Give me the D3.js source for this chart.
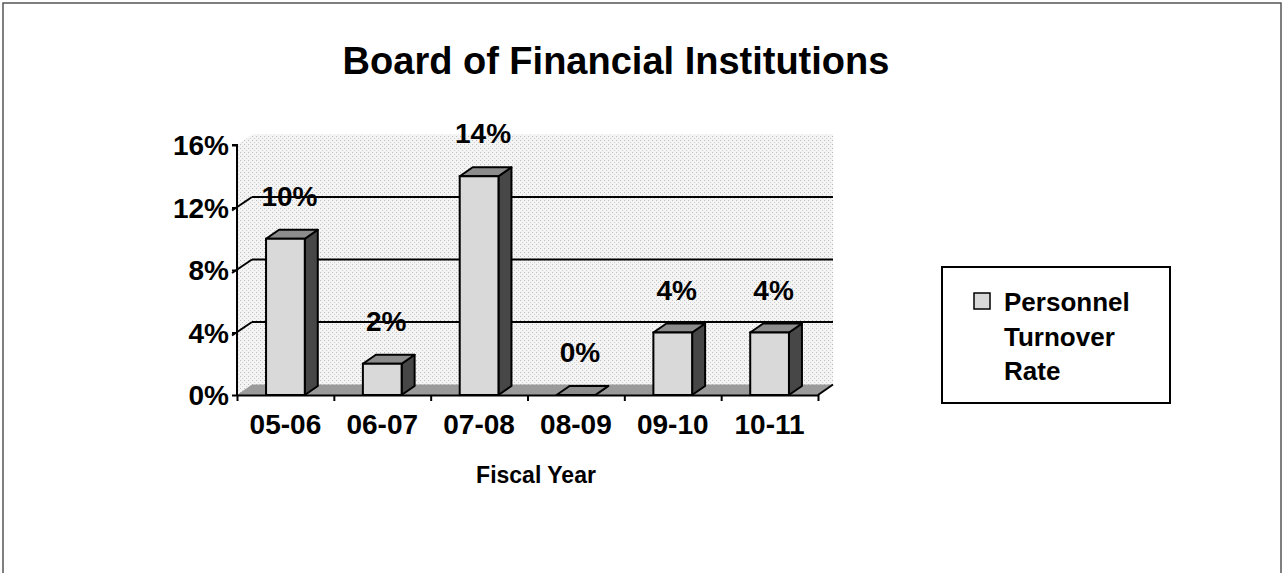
<!DOCTYPE html>
<html>
<head>
<meta charset="utf-8">
<script src="https://cdn.jsdelivr.net/npm/d3@7"></script>
<style>
  html, body { margin: 0; padding: 0; background: #fff; }
  svg { display: block; }
  text { font-family: "Liberation Sans", Arial, sans-serif; font-weight: bold; fill: #000; }
</style>
</head>
<body>
<svg id="chart" width="1284" height="573"></svg>
<script>
const categories = ["05-06", "06-07", "07-08", "08-09", "09-10", "10-11"];
const turnoverRate = [10, 2, 14, 0, 4, 4];
const yTickValues = [0, 4, 8, 12, 16];
const gridValues = [4, 8, 12];
const title = "Board of Financial Institutions";
const xTitle = "Fiscal Year";
const seriesName = ["Personnel", "Turnover", "Rate"];

const svg = d3.select("#chart");

// frame
svg.append("rect").attr("x", 3).attr("y", 3).attr("width", 1278).attr("height", 580)
  .attr("fill", "none").attr("stroke", "#555").attr("stroke-width", 1.5);

const pLeft = 237, pRight = 818, pBottom = 395, pTop = 145;
const wallDx = 15, wallDy = -10.5;
const barDx = 13, barDy = -9;

const x = d3.scaleBand().domain(categories).range([pLeft, pRight]).paddingInner(0).paddingOuter(0);
const xLin = d3.scaleLinear().domain([0, categories.length]).range([pLeft, pRight]);
const y = d3.scaleLinear().domain([0, 16]).range([pBottom, pTop]);

// stipple pattern to mimic the scanned texture
const defs = svg.append("defs");
const pat = defs.append("pattern").attr("id", "stip").attr("width", 4).attr("height", 4).attr("patternUnits", "userSpaceOnUse");
pat.append("rect").attr("width", 4).attr("height", 4).attr("fill", "#f4f4f4");
pat.append("rect").attr("x", 0).attr("y", 0).attr("width", 1).attr("height", 1).attr("fill", "#bdbdbd");
pat.append("rect").attr("x", 2).attr("y", 2).attr("width", 1).attr("height", 1).attr("fill", "#cfcfcf");

// back wall
svg.append("path")
  .attr("d", `M${pLeft},${y(16)} L${pLeft + wallDx},${y(16) + wallDy} L${pRight + wallDx},${y(16) + wallDy} L${pRight + wallDx},${y(0) + wallDy} L${pRight},${y(0)} L${pLeft},${y(0)} Z`)
  .attr("fill", "url(#stip)");

// floor
svg.append("path")
  .attr("d", `M${pLeft},${y(0)} L${pLeft + wallDx},${y(0) + wallDy} L${pRight + wallDx},${y(0) + wallDy} L${pRight},${y(0)} Z`)
  .attr("fill", "#9a9a9a");

// gridlines on back wall
svg.append("g").selectAll("line").data(gridValues).join("line")
  .attr("x1", pLeft + wallDx).attr("x2", pRight + wallDx)
  .attr("y1", d => y(d) + wallDy).attr("y2", d => y(d) + wallDy)
  .attr("stroke", "#000").attr("stroke-width", 2);

// diagonal connectors from front axis to wall
svg.append("g").selectAll("line").data(gridValues).join("line")
  .attr("x1", pLeft - 5).attr("y1", d => y(d) + 3)
  .attr("x2", pLeft + wallDx).attr("y2", d => y(d) + wallDy)
  .attr("stroke", "#000").attr("stroke-width", 2);

// bars
const bw = x.bandwidth() * 0.4;
const barData = categories.map((c, i) => ({ c, v: turnoverRate[i] }));
const bars = svg.append("g").selectAll("g").data(barData).join("g");
bars.each(function (d) {
  const g = d3.select(this);
  const x0 = x(d.c) + (x.bandwidth() - bw) / 2, x1 = x0 + bw;
  const y0 = y(d.v), yb = y(0);
  g.append("path")
    .attr("d", `M${x1},${yb} L${x1},${y0} L${x1 + barDx},${y0 + barDy} L${x1 + barDx},${yb + barDy} Z`)
    .attr("fill", "#474747").attr("stroke", "#000").attr("stroke-width", 2).attr("stroke-linejoin", "round");
  g.append("path")
    .attr("d", `M${x0},${y0} L${x0 + barDx},${y0 + barDy} L${x1 + barDx},${y0 + barDy} L${x1},${y0} Z`)
    .attr("fill", "#8c8c8c").attr("stroke", "#000").attr("stroke-width", 2).attr("stroke-linejoin", "round");
  if (d.v > 0) {
    g.append("rect").attr("x", x0).attr("y", y0).attr("width", bw).attr("height", yb - y0)
      .attr("fill", "#d9d9d9").attr("stroke", "#000").attr("stroke-width", 2);
  }
});

// data labels
svg.append("g").selectAll("text").data(barData).join("text")
  .attr("x", d => x(d.c) + x.bandwidth() / 2 + 4)
  .attr("y", d => y(d.v) - 33)
  .attr("text-anchor", "middle").attr("font-size", 28)
  .text(d => d.v + "%");

// y axis
const yAxis = svg.append("g").attr("transform", `translate(${pLeft},0)`)
  .call(d3.axisLeft(y).tickValues(yTickValues).tickSize(5).tickFormat(d => d + "%"));
yAxis.select(".domain").attr("stroke", "#000").attr("stroke-width", 2).attr("d", `M-5,${pTop}H0V${pBottom}`);
yAxis.selectAll(".tick line").attr("stroke", "#000").attr("stroke-width", 2);
yAxis.selectAll(".tick text").attr("font-size", 28).attr("x", -8).attr("dy", "0.35em")
  .style("font-family", '"Liberation Sans", Arial, sans-serif').style("font-weight", "bold").attr("fill", "#000");

// x axis ticks at band boundaries
const xAxis = svg.append("g").attr("transform", `translate(0,${pBottom})`)
  .call(d3.axisBottom(xLin).tickValues(d3.range(categories.length + 1)).tickSize(6).tickSizeOuter(0).tickFormat(""));
xAxis.select(".domain").attr("stroke", "#000").attr("stroke-width", 2);
xAxis.selectAll(".tick line").attr("stroke", "#000").attr("stroke-width", 2);
svg.append("line").attr("x1", pRight).attr("y1", pBottom).attr("x2", pRight + wallDx).attr("y2", pBottom + wallDy)
  .attr("stroke", "#000").attr("stroke-width", 2);

// x labels
svg.append("g").selectAll("text").data(categories).join("text")
  .attr("x", d => x(d) + x.bandwidth() / 2)
  .attr("y", 434)
  .attr("text-anchor", "middle").attr("font-size", 28)
  .text(d => d);

// axis title
svg.append("text").attr("x", 536).attr("y", 483).attr("text-anchor", "middle").attr("font-size", 23).text(xTitle);

// chart title
svg.append("text").attr("x", 616).attr("y", 74).attr("text-anchor", "middle").attr("font-size", 38).text(title);

// legend
const lg = svg.append("g");
lg.append("rect").attr("x", 942).attr("y", 267).attr("width", 228).attr("height", 136)
  .attr("fill", "#fff").attr("stroke", "#000").attr("stroke-width", 2);
lg.append("rect").attr("x", 974).attr("y", 293).attr("width", 16).attr("height", 16)
  .attr("fill", "#d9d9d9").attr("stroke", "#000").attr("stroke-width", 1.5);
lg.selectAll("text.leg").data(seriesName).join("text").attr("class", "leg")
  .attr("x", 1004).attr("y", (d, i) => 311 + i * 34.5)
  .attr("font-size", 26).text(d => d);
</script>
</body>
</html>
